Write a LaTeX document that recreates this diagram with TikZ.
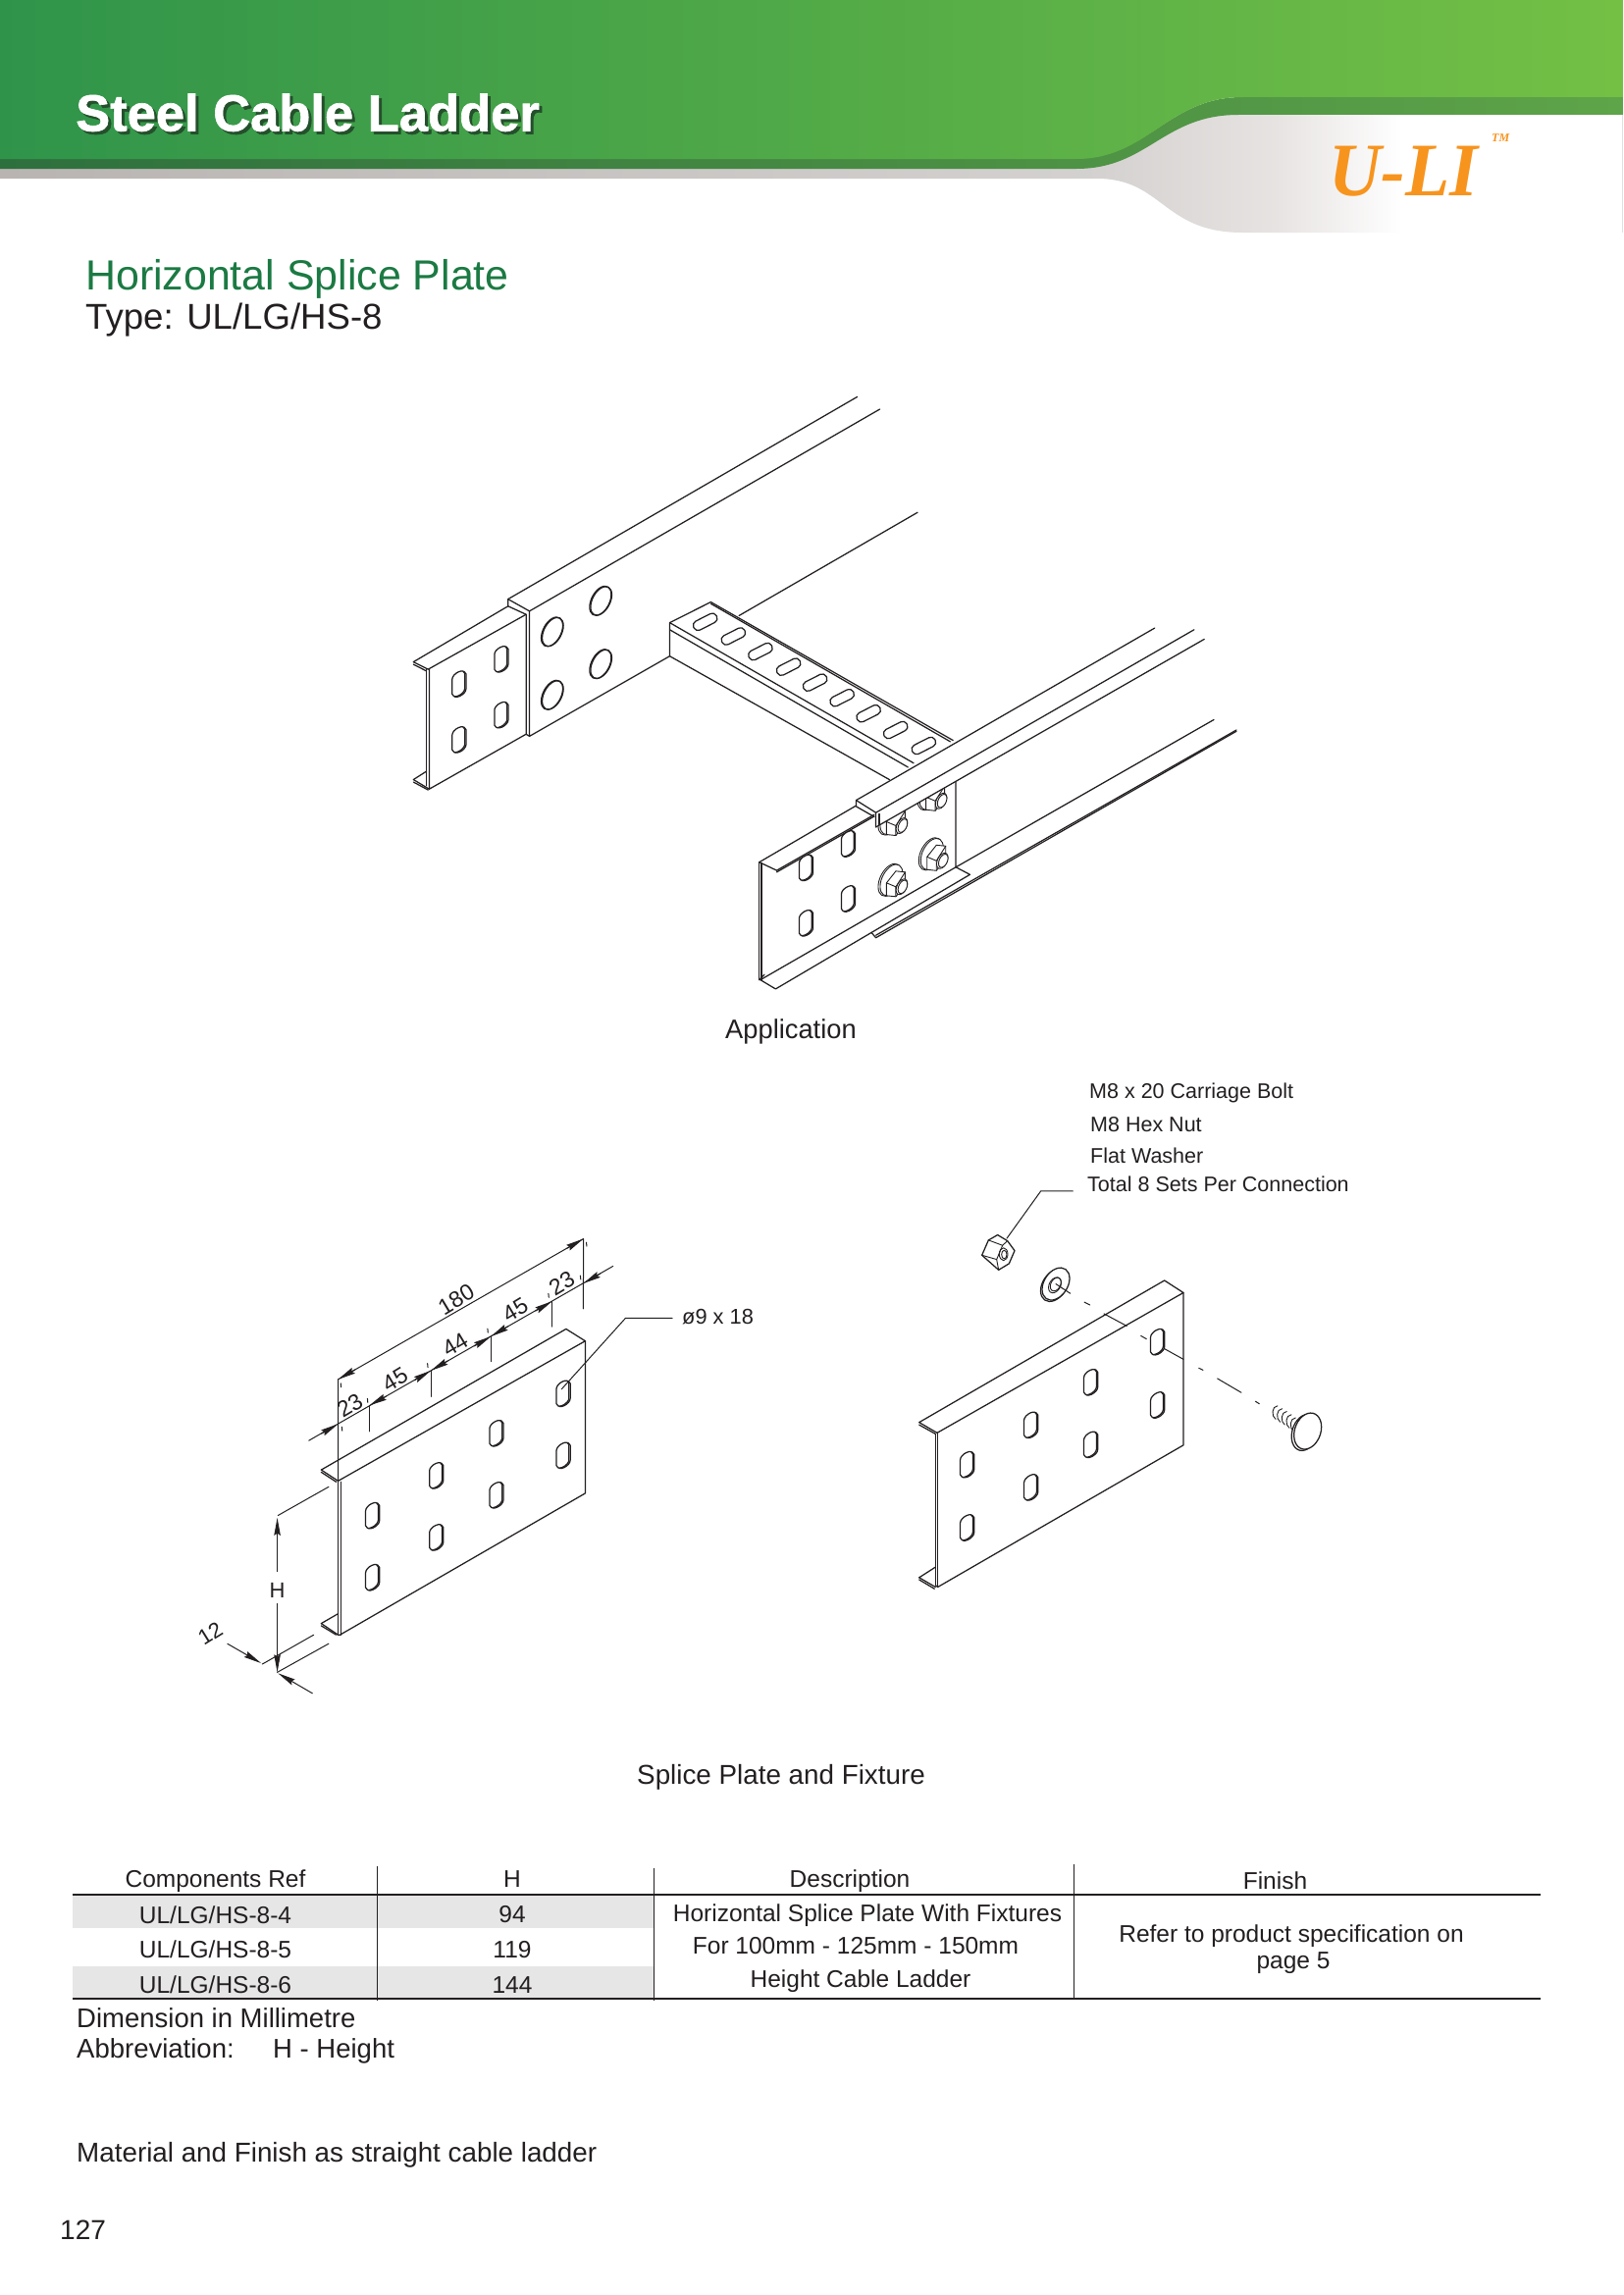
\documentclass[tikz,border=0pt]{standalone}
\usepackage{fontspec}
\setmainfont{Liberation Sans}
\newfontfamily\uliserif{Liberation Serif}
\newfontfamily\titlefont[BoldFeatures={FakeBold=1.2}]{Liberation Sans}
\usetikzlibrary{arrows.meta}
\definecolor{ink}{HTML}{231F20}
\definecolor{grA}{HTML}{2F944A}
\definecolor{grB}{HTML}{74C045}
\definecolor{dkA}{HTML}{2E6F3E}
\definecolor{dkB}{HTML}{5EA448}
\definecolor{headg}{HTML}{1B7A43}
\definecolor{orangeU}{HTML}{F7941E}
\definecolor{rowg}{HTML}{E6E6E6}
\definecolor{shadowg}{HTML}{24502C}
\pgfdeclarehorizontalshading{grayband}{100bp}{rgb(0bp)=(0.725,0.706,0.698);rgb(25bp)=(0.725,0.706,0.698);rgb(58.8bp)=(0.83,0.82,0.815);rgb(64.3bp)=(0.905,0.89,0.885);rgb(68.2bp)=(1,1,1);rgb(100bp)=(1,1,1)}
\newcommand\fs[1]{\fontsize{#1}{#1}\selectfont}
\tikzset{
 line/.style={draw=ink,line width=1.25pt,line cap=round,line join=round},
 fine line/.style={draw=ink,line width=.9pt,line cap=round,line join=round},
 thin line/.style={draw=ink,line width=1pt,line cap=round},
 dimtip/.style={draw=ink,line width=1pt,-{Stealth[length=18pt,width=6.5pt,inset=2pt]}},
 lab/.style={inner sep=0pt,anchor=base west,text=ink},
 ctr/.style={inner sep=0pt,anchor=base,text=ink},
 tbl/.style={ctr,font=\fs{24.5}},
 rule/.style={draw=ink,line width=1pt},
 rulebold/.style={draw=ink,line width=1.8pt},
}
\newcommand\unitslot{(-1,-1.2) -- (-1,1.2) .. controls (-1,1.6) and (-.55,1.9) .. (0,1.9) .. controls (.55,1.9) and (1,1.6) .. (1,1.2) -- (1,-1.2) .. controls (1,-1.6) and (.55,-1.9) .. (0,-1.9) .. controls (-.55,-1.9) and (-1,-1.6) .. (-1,-1.2) -- cycle}
\newcommand\slot[2]{\begin{scope}[shift={(#1,#2)},xscale=\zx,yscale=\zy,yslant=\zslant,scale=\zsize]
 \draw[line,fill=white,shift={(.2,.16)}] \unitslot;
 \draw[line,fill=white] \unitslot;
\end{scope}}
\newcommand\rungslot[2]{\begin{scope}[shift={(#1,#2)},xscale=\zx,yscale=\zy,rotate=27]
 \draw[line,fill=white,rounded corners=4.5pt] (-13,-5) rectangle (13,5);
\end{scope}}
\newcommand\hole[2]{\begin{scope}[shift={(#1,#2)},xscale=\zx,yscale=\zy,yslant=.58]
 \draw[line] (0,0) ellipse (11 and 13.5);
 \draw[line] (.8,.6) ellipse (10.8 and 13.2);
\end{scope}}
\newcommand\bolt[2]{\begin{scope}[shift={(#1,#2)},xscale=\zx,yscale=\zy]
 \begin{scope}[yslant=.58]
 \draw[fine line,fill=white] (0,0) ellipse (12 and 15);
 \draw[fine line,fill=white] (1.5,1) ellipse (11.5 and 14.5);
 \end{scope}
 \begin{scope}[shift={(6,4)},yslant=.58]
 \draw[fine line,fill=white] (0,13) -- (9.5,6.5) -- (9.5,-6.5) -- (0,-13) -- (-9.5,-6.5) -- (-9.5,6.5) -- cycle;
 \draw[fine line] (0,13) -- (0,3) (0,3) -- (9.5,-6.5) (0,3) -- (-9.5,-6.5);
 \end{scope}
 \begin{scope}[shift={(12,7)},yslant=.58]
 \draw[fine line,fill=white] (0,0) ellipse (5.8 and 7.2);
 \draw[fine line,fill=white] (1,.6) ellipse (4.8 and 6.2);
 \end{scope}
\end{scope}}
\begin{document}
\begin{tikzpicture}[x=1pt,y=-1pt]
\useasboundingbox (0,0) rectangle (1654,2339);
\fill[white] (0,0) rectangle (1654,2339);
%% ---------- header
\shade[shading=grayband] (0,165) -- (1097,165) -- (1200,125) -- (1260,112) -- (1654,112) -- (1654,237) -- (1266,237)
  .. controls (1185,237) and (1185,182) .. (1118,182) -- (0,182) -- cycle;
\draw[draw=black!12,line width=1pt] (1653,117) -- (1653,237);
\shade[left color=dkA,right color=dkB] (0,160) -- (1097,160) .. controls (1170,162) and (1190,99) .. (1266,99) -- (1654,99) -- (1654,117) -- (1262,117)
  .. controls (1185,117) and (1170,172) .. (1097,172) -- (0,172) -- cycle;
\shade[left color=grA,right color=grB] (0,0) -- (1654,0) -- (1654,99) -- (1266,99) .. controls (1190,99) and (1170,162) .. (1097,162) -- (0,162) -- cycle;
\node[lab,text=shadowg] (titleshadow) at (80,136.5) {\titlefont\fs{52.5}\bfseries Steel Cable Ladder};
\node[lab,text=white] (title) at (77,133.5) {\titlefont\fs{52.5}\bfseries Steel Cable Ladder};
\node[lab,text=orangeU,xscale=.96] (uli) at (1354,199) {\uliserif\fs{77}\bfseries\itshape U-LI};
\node[lab,text=orangeU] (tm) at (1520,145) {\uliserif\fs{12}\bfseries\itshape TM};
%% ---------- headings
\node[lab,text=headg] (head) at (87,295) {\fs{42.9}Horizontal Splice Plate};
\node[lab] (type) at (87,335) {\fs{36.6}Type: UL/LG/HS-8};
\node[ctr] (appl) at (806,1058) {\fs{27.3}Application};
\node[ctr] (fixt) at (796,1818) {\fs{27.8}Splice Plate and Fixture};
%% ---------- application drawing
\begin{scope}[shift={(380,380)},xscale=1/1.742,yscale=1/2.376]
\def\zx{1.742}\def\zy{2.376}\def\zslant{.45}\def\zsize{6.4}
% left rail
\draw[line] (240,548) -- (860,58);
\draw[line] (278,577) -- (900,88);
\draw[line] (240,548) -- (278,577) -- (278,880) -- (527,686);
\draw[line] (240,548) -- (240,565) -- (272,585) -- (272,875) -- (278,880);
\draw[line] (650,588) -- (967,338);
% left plate
\draw[line] (72,700) -- (240,565);
\draw[line] (98,718) -- (272,585);
\draw[line] (72,700) -- (98,718);
\draw[line] (72,706) -- (95,722);
\draw[line] (95,718) -- (95,1000);
\draw[line] (100,718) -- (100,1008) -- (272,875);
\draw[line] (72,985) -- (95,965);
\draw[line] (72,985) -- (100,1008);
\draw[line] (72,991) -- (98,1010);
\slot{152}{753}\slot{152}{888}\slot{227}{693}\slot{227}{828}
\hole{318}{627}\hole{318}{780}\hole{404}{552}\hole{404}{705}
% rung
\draw[line] (527,605) -- (600,555) -- (1030,890);
\draw[line] (600,559) -- (1025,893);
\draw[line] (527,605) -- (960,945);
\draw[line] (527,622) -- (950,955);
\draw[line] (527,605) -- (527,686) -- (917,985);
\rungslot{590}{603}\rungslot{640}{638}\rungslot{688}{675}\rungslot{738}{712}\rungslot{785}{750}\rungslot{833}{787}\rungslot{880}{825}\rungslot{928}{865}\rungslot{978}{903}
% right rail
\draw[line] (1035,990) -- (1035,1197) -- (1493,840);
% bolts
\bolt{918}{1228}\bolt{990}{1165}\bolt{918}{1080}\bolt{988}{1020}
\fill[white] (858,1035) -- (1388,618) -- (1476,645) -- (893,1100) -- cycle;
\fill[white] (860,1050) -- (890,1075) -- (717,1205) -- (686,1185) -- cycle;
\draw[line] (858,1035) -- (1388,618);
\draw[line] (893,1065) -- (1458,622);
\draw[line] (893,1100) -- (1476,645);
\draw[line] (858,1035) -- (893,1065) -- (893,1100);
\draw[line] (899,1068) -- (899,1095);
\draw[line] (858,1035) -- (858,1050) -- (890,1075);
% right plate
\draw[line] (686,1185) -- (858,1048);
\draw[line] (717,1205) -- (890,1070);
\draw[line] (717,1209) -- (890,1074);
\draw[line] (686,1185) -- (717,1205);
\draw[line] (686,1185) -- (686,1470);
\draw[line] (690,1187) -- (690,1470);
\draw[line] (688,1470) -- (715,1492) -- (1060,1215) -- (1035,1197);
\draw[line] (688,1470) -- (1035,1197);
\draw[line] (695,1457) -- (686,1470);
\draw[line] (885,1355) -- (893,1368) -- (1533,868);
\draw[line] (893,1362) -- (1533,865);
\slot{768}{1198}\slot{768}{1332}\slot{843}{1140}\slot{843}{1273}
\end{scope}
%% ---------- left plate with dimensions
\begin{scope}[shift={(180,1240)},xscale=1/2.613,yscale=1/3.015]
\def\zx{2.613}\def\zy{3.015}\def\zslant{.45}\def\zsize{6.4}
\draw[line] (385,778) -- (1037,345) -- (1088,382) -- (430,812) -- cycle;
\draw[line] (385,785) -- (425,815);
\draw[line] (430,812) -- (430,1285);
\draw[line] (437,815) -- (437,1285);
\draw[line] (1088,382) -- (1088,850) -- (435,1285) -- (430,1285);
\draw[line] (385,1250) -- (430,1220);
\draw[line] (385,1250) -- (430,1285);
\draw[line] (385,1257) -- (425,1285);
\slot{520}{918}\slot{520}{1108}\slot{690}{795}\slot{690}{985}\slot{850}{665}\slot{850}{855}\slot{1028}{543}\slot{1028}{733}
% dimension lines
\coordinate (dA) at (430,500); \coordinate (dB) at (1083,68);
\draw[thin line] (dA) -- (430,812);
\draw[thin line] (dB) -- (1083,283);
\draw[dimtip] (475,470) -- (dA);
\draw[dimtip] (1040,97) -- (dB);
\draw[thin line] (dA) -- (dB);
\draw[thin line] (352,688) -- (1162,152);
\draw[dimtip] (385,667) -- (430,637);
\draw[dimtip] (558,552) -- (513,580);
\draw[dimtip] (633,503) -- (677,473);
\draw[dimtip] (722,443) -- (677,473);
\draw[dimtip] (792,398) -- (837,368);
\draw[dimtip] (882,337) -- (837,368);
\draw[dimtip] (955,290) -- (1000,260);
\draw[dimtip] (1128,175) -- (1083,205);
\draw[thin line] (513,580) -- (513,660);
\draw[thin line] (677,473) -- (677,553);
\draw[thin line] (837,368) -- (837,445);
\draw[thin line] (1000,260) -- (1000,338);
\foreach \a/\b in {437/518,440/652,508/565,668/457,828/350,990/242,1075/187,1091/85}{
 \draw[thin line] (\a,\b-6) -- (\a+1,\b+6);}
\node[ctr,rotate=31] (d180) at (755,275) {\fs{23}180};
\node[ctr,rotate=31] (d23a) at (472,600) {\fs{23}23};
\node[ctr,rotate=31] (d45a) at (592,520) {\fs{23}45};
\node[ctr,rotate=31] (d44) at (752,414) {\fs{23}44};
\node[ctr,rotate=31] (d45b) at (912,307) {\fs{23}45};
\node[ctr,rotate=31] (d23b) at (1036,226) {\fs{23}23};
% H
\draw[thin line] (405,830) -- (270,918);
\draw[thin line] (365,1285) -- (228,1375);
\draw[thin line] (405,1312) -- (268,1400);
\draw[dimtip] (268,1092) -- (268,925);
\draw[dimtip] (268,1188) -- (268,1400);
\node[ctr] (dH) at (268,1170) {\fs{22}H};
\draw[dimtip] (135,1312) -- (225,1372);
\draw[dimtip] (362,1465) -- (270,1403);
\node[ctr,rotate=32] (d12) at (100,1300) {\fs{22}12};
% leader
\coordinate (ld1) at (1025,530); \coordinate (ld2) at (1195,312); \coordinate (ld3) at (1320,312);
\draw[thin line] (ld1) -- (ld2) -- (ld3);
\end{scope}
\node[lab] (dia) at (695,1349) {\fs{21.8}ø9 x 18};
%% ---------- right plate with fixings
\begin{scope}[shift={(920,1080)},xscale=1/3,yscale=1/2.8]
\def\zx{3}\def\zy{2.8}\def\zslant{.45}\def\zsize{6.4}
\draw[line] (50,1035) -- (800,630) -- (858,665) -- (105,1065) -- cycle;
\draw[line] (50,1042) -- (100,1068);
\draw[line] (100,1068) -- (100,1500);
\draw[line] (107,1065) -- (107,1505);
\draw[line] (858,665) -- (858,1100) -- (107,1505) -- (100,1500);
\draw[line] (50,1478) -- (100,1448);
\draw[line] (50,1478) -- (100,1505);
\draw[line] (50,1484) -- (97,1510);
\slot{195}{1155}\slot{195}{1335}\slot{390}{1042}\slot{390}{1220}\slot{573}{920}\slot{573}{1098}\slot{777}{805}\slot{777}{985}
% axis
\draw[thin line] (615,725) -- (685,760);
\draw[thin line] (555,692) -- (572,700);
\draw[thin line] (728,788) -- (745,797);
\draw[thin line] (800,825) -- (858,855);
\draw[thin line] (905,880) -- (918,886);
\draw[thin line] (962,910) -- (1035,950);
\draw[thin line] (1078,975) -- (1090,982);
% washer
\begin{scope}[shift={(468,640)},xscale=3,yscale=2.8,yslant=.4]
 \draw[line,fill=white] (-1.5,.8) ellipse (14 and 15.5);
 \draw[line,fill=white] (0,0) ellipse (14 and 15.5);
 \draw[fine line,fill=white] (-1,.8) ellipse (6.5 and 7.5);
 \draw[fine line] (-.2,.3) ellipse (5.5 and 6.5);
\end{scope}
\draw[thin line] (468,640) -- (512,667);
% nut
\coordinate (nut) at (318,510);
\draw[line,fill=white] (290,500) -- (320,517) -- (342,545) -- (325,582) -- (293,600) -- (242,558) -- (262,515) -- cycle;
\draw[fine line] (262,515) -- (305,530) -- (320,517);
\draw[fine line] (305,530) -- (287,570) -- (293,600);
\draw[fine line] (287,570) -- (242,558);
\draw[fine line] (308,555) ellipse (13 and 18);
\draw[fine line] (310,556) ellipse (8 and 12);
\draw[thin line] (nut) -- (422,375) -- (520,375);
% carriage bolt
\foreach \a/\b in {1138/1008,1152/1016,1166/1024,1180/1033,1193/1042}{
 \draw[fine line] (\a+8,\b-20) .. controls (\a-10,\b-20) and (\a-12,\b+10) .. (\a+2,\b+18);}
\begin{scope}[shift={(1238,1060)},xscale=3,yscale=2.8,yslant=.3]
 \draw[line,fill=white] (-3,.5) ellipse (13.5 and 18);
 \draw[line,fill=white] (0,0) ellipse (14 and 18);
\end{scope}
\end{scope}
\node[lab] (t1) at (1110,1119) {\fs{21.5}M8 x 20 Carriage Bolt};
\node[lab] (t2) at (1111,1153) {\fs{21.5}M8 Hex Nut};
\node[lab] (t3) at (1111,1185) {\fs{21.5}Flat Washer};
\node[lab] (t4) at (1108,1214) {\fs{21.5}Total 8 Sets Per Connection};
%% ---------- table
\fill[rowg] (74,1932) rectangle (666,1965);
\fill[rowg] (74,2004) rectangle (666,2037);
\draw[rulebold] (74,1931) -- (1570,1931);
\draw[rulebold] (74,2037) -- (1570,2037);
\draw[rule] (384,1902) -- (384,2039);
\draw[rule] (666,1904) -- (666,2039);
\draw[rule] (1094,1900) -- (1094,2037);
\node[tbl] (h1) at (219.5,1923) {Components Ref};
\node[tbl] (h2) at (522,1923) {H};
\node[tbl] (h3) at (866,1923) {Description};
\node[tbl] (h4) at (1299.5,1925) {Finish};
\node[tbl] (r1) at (219.5,1960) {UL/LG/HS-8-4};
\node[tbl] (r2) at (219.5,1995) {UL/LG/HS-8-5};
\node[tbl] (r3) at (219.5,2031) {UL/LG/HS-8-6};
\node[tbl] (v1) at (522,1959) {94};
\node[tbl] (v2) at (522,1995) {119};
\node[tbl] (v3) at (522,2031) {144};
\node[tbl] (d1) at (884,1958) {Horizontal Splice Plate With Fixtures};
\node[tbl] (d2) at (872,1991) {For 100mm - 125mm - 150mm};
\node[tbl] (d3) at (877,2025) {Height Cable Ladder};
\node[tbl] (f1) at (1316,1979) {Refer to product specification on};
\node[tbl] (f2) at (1318,2006) {page 5};
\node[lab] (n1) at (78,2066) {\fs{27.5}Dimension in Millimetre};
\node[lab] (n2) at (78,2097) {\fs{27.5}Abbreviation:};
\node[lab] (n3) at (278,2097) {\fs{27.5}H - Height};
\node[lab] (n4) at (78,2203) {\fs{27.8}Material and Finish as straight cable ladder};
\node[lab] (pg) at (61,2282.5) {\fs{28}127};
\end{tikzpicture}
\end{document}
